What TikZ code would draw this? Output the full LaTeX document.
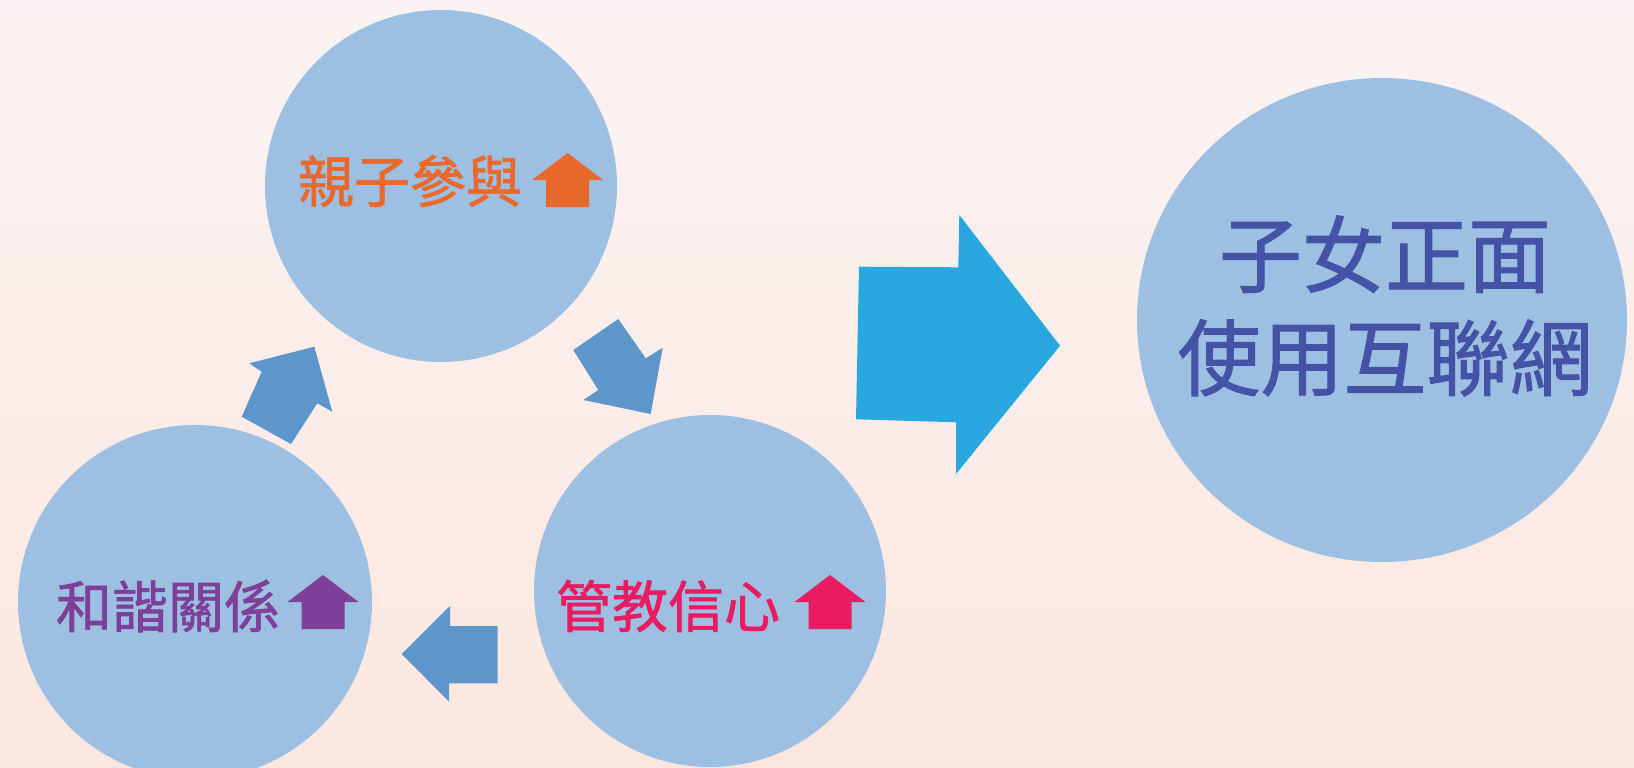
\documentclass[tikz,border=0pt]{standalone}
\usepackage{fontspec}
\newfontfamily\cjk[FakeBold=1.2]{Noto Sans CJK TC}
\definecolor{bgtop}{HTML}{FBF3F3}
\definecolor{bgbot}{HTML}{FCE7DF}
\definecolor{circ}{HTML}{9DBFE1}
\definecolor{cyc}{HTML}{5C96CB}
\definecolor{bigarr}{HTML}{29A8DF}
\definecolor{orangec}{HTML}{E8692B}
\definecolor{purplec}{HTML}{7D3F98}
\definecolor{pinkc}{HTML}{E91C62}
\definecolor{navy}{HTML}{4453A6}
\tikzset{
  bubble/.style={circle, fill=circ, inner sep=0pt},
  smalllabel/.style={inner sep=0pt, font=\cjk\fontsize{56}{60}\selectfont},
  biglabel/.style={inner sep=0pt, align=center, text=navy, font=\cjk\fontsize{83}{103}\selectfont},
  cyclearrow/.style={fill=cyc},
  uparrow/.pic={\fill[#1] (-35.5,0) -- (0,-27) -- (35.5,0) -- (21.5,0) -- (21.5,27) -- (-21.5,27) -- (-21.5,0) -- cycle;}
}
\begin{document}
\begin{tikzpicture}[x=1pt,y=-1pt]
\useasboundingbox (0,0) rectangle (1634,768);
\shade[top color=bgtop, bottom color=bgbot] (0,0) rectangle (1634,768);
\begin{scope}
\clip (0,0) rectangle (1634,768);
% circles
\node[bubble, minimum size=352] (top) at (441,186) {};
\node[bubble, minimum size=354] (left) at (195,602) {};
\node[bubble, minimum size=352] (right) at (710,591) {};
\fill[circ] (1382,320) ellipse [x radius=245, y radius=242];
\node[inner sep=0pt] (goal) at (1382,320) {};
\end{scope}
% labels
\node[smalllabel, text=orangec] (t1) at (410,181) {親子參與};
\pic at (567.5,180) {uparrow=orangec};
\node[smalllabel, text=purplec] (t3) at (168,606) {和諧關係};
\pic at (323,602) {uparrow=purplec};
\node[smalllabel, text=pinkc] (t2) at (668,606) {管教信心};
\pic at (830,602) {uparrow=pinkc};
\node[biglabel] (g) at (1385,306) {子女正面\\使用互聯網};
% cycle arrows
\fill[cyclearrow] (241.7,416.7) -- (261.7,371.7) -- (249.3,363.3) -- (314.3,346.7) -- (332.3,411.7) -- (317.3,403.3) -- (291,444) -- cycle;
\fill[cyclearrow] (573.3,350) -- (618.3,319) -- (645.7,358.3) -- (662.7,347.7) -- (650.7,414) -- (583.3,400) -- (598.3,390) -- cycle;
\fill[cyclearrow] (497.7,626) -- (450,626) -- (450,606) -- (401.7,654) -- (449,701.7) -- (449,683.3) -- (497.7,683.3) -- cycle;
% big arrow
\fill[bigarr] (859,266.7) -- (958.3,267.3) -- (959.3,215) -- (1060,345.7) -- (956,474) -- (956,422.3) -- (856,419.3) -- cycle;
\end{tikzpicture}
\end{document}
